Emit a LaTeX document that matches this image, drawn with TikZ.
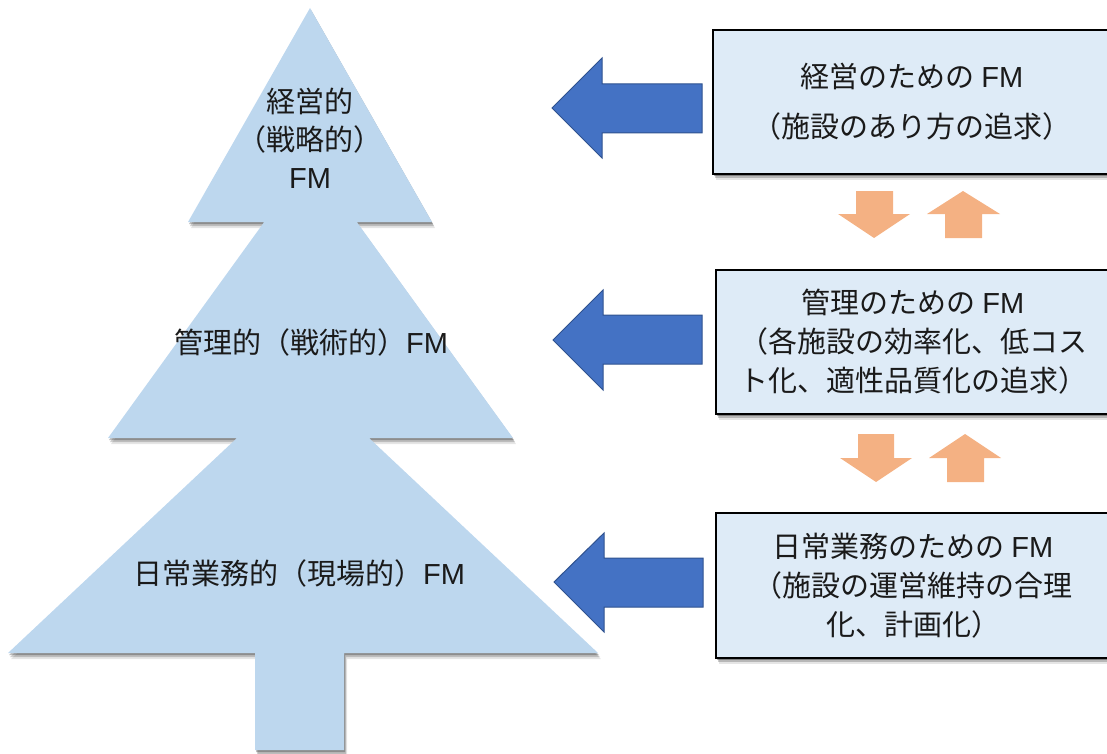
\documentclass[tikz,border=0pt]{standalone}
\usepackage{fontspec}
\setmainfont{Noto Sans CJK JP}
\newfontfamily\latinfont{Liberation Sans}
\newcommand\FMtext{{\latinfont FM}}
\usetikzlibrary{shadows}
\definecolor{treeblue}{HTML}{BDD7EE}
\definecolor{boxfill}{HTML}{DEEBF7}
\definecolor{arrowblue}{HTML}{4472C4}
\definecolor{arrowedge}{HTML}{2F528F}
\definecolor{arroworange}{HTML}{F4B183}
\definecolor{textcol}{HTML}{1A1A1A}
\newcommand\treeshape[1]{%
  \fill[#1] (310,8)--(432,222)--(188,222)--cycle
            (310.5,158)--(513,438)--(108,438)--cycle
            (303,376)--(598,653)--(8,653)--cycle
            (255,640)--(344,640)--(344,750)--(255,750)--cycle;}
\begin{document}
\begin{tikzpicture}[x=1pt,y=-1pt,
  treelabel/.style={font=\fontsize{29pt}{38pt}\selectfont, text=textcol, align=center, inner sep=0pt},
  fmbox/.style={draw=black, line width=1.1pt, fill=boxfill, rectangle, inner sep=0pt,
     font=\fontsize{29pt}{39pt}\selectfont, text=textcol, align=center,
     drop shadow={shadow xshift=1pt, shadow yshift=-2pt, opacity=.3, fill=black},
     drop shadow={shadow xshift=2pt, shadow yshift=-4pt, opacity=.2, fill=black},
     drop shadow={shadow xshift=3pt, shadow yshift=-6pt, opacity=.1, fill=black}},
  bluearrow/.style={fill=arrowblue, draw=arrowedge, line width=1pt, line join=miter},
  orangearrow/.style={fill=arroworange}]
\useasboundingbox (0,0) rectangle (1107,754);
% tree shadow and body
\treeshape{black,opacity=.25,shift={(1,2)}}
\treeshape{black,opacity=.18,shift={(2,4)}}
\treeshape{black,opacity=.10,shift={(3,6)}}
\treeshape{treeblue}
% tree labels
\node[treelabel] (top) at (310,138) {経営的\\（戦略的）\\\FMtext};
\node[treelabel] (mid) at (311,342) {管理的（戦術的）\FMtext};
\node[treelabel] (low) at (299,573) {日常業務的（現場的）\FMtext};
% boxes
\node[fmbox, minimum width=398pt, minimum height=144pt, font=\fontsize{29pt}{50pt}\selectfont] (b1) at (912,102)
  {経営のための \FMtext\\（施設のあり方の追求）};
\node[fmbox, minimum width=394pt, minimum height=144pt] (b2) at (913,342)
  {管理のための \FMtext\\（各施設の効率化、低コス\\ト化、適性品質化の追求）};
\node[fmbox, minimum width=394pt, minimum height=145pt] (b3) at (913,585.5)
  {日常業務のための \FMtext\\（施設の運営維持の合理\\化、計画化）};
% blue arrows
\path[bluearrow] (552,108)--(602,58)--(602,84)--(702,84)--(702,133)--(602,133)--(602,158)--cycle;
\path[bluearrow] (553,340)--(603,290)--(603,315)--(702,315)--(702,364)--(603,364)--(603,390)--cycle;
\path[bluearrow] (554,582)--(604,533)--(604,558)--(703,558)--(703,607)--(604,607)--(604,632)--cycle;
% orange arrows
\path[orangearrow] (856,191)--(893,191)--(893,214)--(910,214)--(874,238)--(838,214)--(856,214)--cycle;
\path[orangearrow] (963,191)--(1000,214)--(982,214)--(982,238)--(945,238)--(945,214)--(927,214)--cycle;
\path[orangearrow] (858,434)--(894,434)--(894,458)--(912,458)--(876,482)--(840,458)--(858,458)--cycle;
\path[orangearrow] (965,434)--(1001,458)--(984,458)--(984,482)--(947,482)--(947,458)--(929,458)--cycle;
\end{tikzpicture}
\end{document}
